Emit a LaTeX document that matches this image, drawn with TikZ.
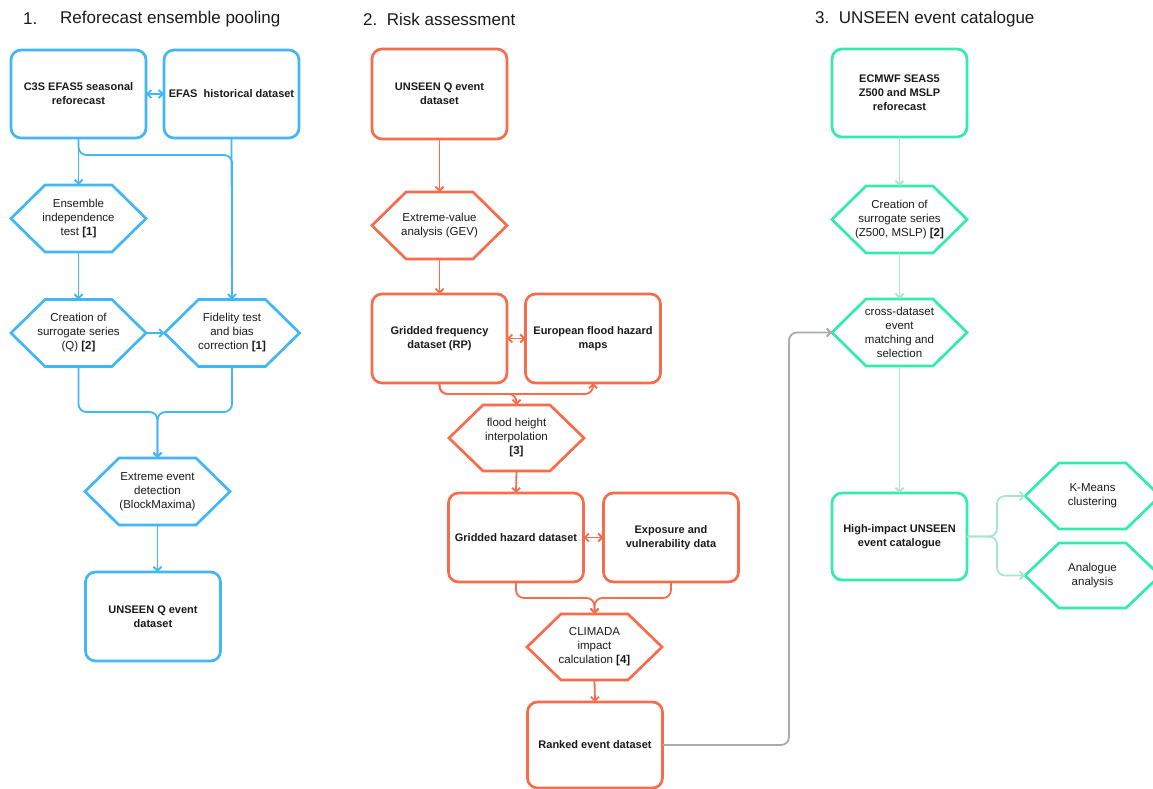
\documentclass[tikz,border=0pt]{standalone}
\usepackage{fontspec}
\setmainfont{Liberation Sans}
\usetikzlibrary{arrows.meta}
\definecolor{cblue}{HTML}{42B6F7}
\definecolor{corange}{HTML}{F76C4D}
\definecolor{cgreen}{HTML}{33ECAB}
\definecolor{cgreenl}{HTML}{A8E5CD}
\definecolor{cgrey}{HTML}{AAAAAA}
\definecolor{ctext}{HTML}{1A1A1A}
\newcommand\drawhex[2]{%
  \draw[line width=2.7pt,#2,line join=miter]
    (#1.west) -- ([xshift=34pt]#1.north west) -- ([xshift=-34pt]#1.north east)
    -- (#1.east) -- ([xshift=-34pt]#1.south east) -- ([xshift=34pt]#1.south west) -- cycle;}
\tikzset{
  boxnode/.style={draw=#1, line width=2.7pt, rounded corners=10pt, minimum width=135pt,
    minimum height=88pt, align=center, inner sep=0pt, outer sep=0pt,
    font=\fontsize{11}{14}\selectfont\bfseries, text=ctext},
  hexnode/.style={draw=none, minimum width=135pt, minimum height=67pt, align=center,
    inner sep=0pt, outer sep=0pt, font=\fontsize{11.5}{14}\selectfont, text=ctext},
  conn/.style={line width=1.8pt, draw=#1, rounded corners=8pt},
  arr/.style={conn=#1, -{Straight Barb[length=4pt,width=8pt]}},
  darr/.style={conn=#1, {Straight Barb[length=4pt,width=8pt]}-{Straight Barb[length=4pt,width=8pt]}},
  title/.style={anchor=west, font=\fontsize{17}{19}\selectfont, text=ctext, inner sep=0pt}
}
\begin{document}
\begin{tikzpicture}[x=1pt,y=-1pt]
\useasboundingbox (0,0) rectangle (1153,789);
% titles
\node[title] (t1a) at (23,19) {1.};
\node[title] (t1b) at (60,19) {Reforecast ensemble pooling};
\node[title] (t2) at (363,19) {2.\ \ Risk assessment};
\node[title] (t3) at (815,19) {3.\ \ UNSEEN event catalogue};

% ---------- column 1 (blue)
\node[boxnode=cblue] (A) at (78.5,94) {C3S EFAS5 seasonal\\reforecast};
\node[boxnode=cblue] (B) at (231.5,94) {EFAS\ \ historical dataset};
\node[hexnode] (H1) at (78.5,218.5) {Ensemble\\independence\\test \textbf{[1]}};
\node[hexnode] (H2) at (78.5,333) {Creation of\\surrogate series\\(Q) \textbf{[2]}};
\node[hexnode] (H3) at (232,333) {Fidelity test\\and bias\\correction \textbf{[1]}};
\node[hexnode, minimum width=145pt] (H4) at (157.5,491.5) {Extreme event\\detection\\(BlockMaxima)};
\node[boxnode=cblue, minimum height=89pt] (D) at (153,616.5) {UNSEEN Q event\\dataset};
\drawhex{H1}{cblue}
\drawhex{H2}{cblue}
\drawhex{H3}{cblue}
\drawhex{H4}{cblue}
\coordinate (j1) at (232,155);
\coordinate (m1) at (157.5,412);
\draw[darr=cblue] (A.east) -- (B.west);
\draw[arr=cblue] (A.south) -- (H1.north);
\draw[conn=cblue] (A.south) |- (j1) -- (H3.north);
\draw[arr=cblue] (B.south) -- (H3.north);
\draw[arr=cblue] (H1.south) -- (H2.north);
\draw[arr=cblue] (H2.east) -- (H3.west);
\draw[arr=cblue] (H2.south) |- (m1) -- (H4.north);
\draw[arr=cblue] (H3.south) |- (m1) -- (H4.north);
\draw[arr=cblue] (H4.south) -- (H4.south |- D.north);

% ---------- column 2 (orange)
\node[boxnode=corange, minimum height=90pt] (C) at (439.5,94) {UNSEEN Q event\\dataset};
\node[hexnode] (H5) at (439.5,225.5) {Extreme-value\\analysis (GEV)};
\node[boxnode=corange, minimum height=89pt] (E) at (439.5,338.5) {Gridded frequency\\dataset (RP)};
\node[boxnode=corange, minimum height=89pt] (F) at (593,338.5) {European flood hazard\\maps};
\node[hexnode, minimum height=66pt] (H6) at (516.5,438) {flood height\\interpolation\\\textbf{[3]}};
\node[boxnode=corange, minimum height=89pt] (G) at (516,537.5) {Gridded hazard dataset};
\node[boxnode=corange, minimum height=89pt] (I) at (671,537.5) {Exposure and\\vulnerability data};
\node[hexnode, minimum height=66pt] (H7) at (594.5,647) {CLIMADA\\impact\\calculation \textbf{[4]}};
\node[boxnode=corange, minimum height=86pt] (J) at (595,745) {Ranked event dataset};
\drawhex{H5}{corange}
\drawhex{H6}{corange}
\drawhex{H7}{corange}
\coordinate (m2) at (516.5,394);
\coordinate (m3) at (593,394);
\coordinate (m4) at (594.5,598);
\coordinate (g1) at (789,745);
\draw[arr=corange] (C.south) -- (H5.north);
\draw[arr=corange] (H5.south) -- (E.north);
\draw[darr=corange] (E.east) -- (F.west);
\draw[arr=corange] (E.south) |- (m3) -- (F.south);
\draw[arr=corange] (E.south) |- (m2) -- (H6.north);
\draw[arr=corange] (H6.south) -- (G.north);
\draw[darr=corange] (G.east) -- (I.west);
\draw[arr=corange] (G.south) |- (m4) -- (H7.north);
\draw[arr=corange] (I.south) |- (m4) -- (H7.north);
\draw[arr=corange] (H7.south) -- (J.north);

% ---------- column 3 (green)
\node[boxnode=cgreen] (K) at (899.5,93) {ECMWF SEAS5\\Z500 and MSLP\\reforecast};
\node[hexnode] (H8) at (899.5,219.5) {Creation of\\surrogate series\\(Z500, MSLP) \textbf{[2]}};
\node[hexnode] (H9) at (899.5,332.5) {cross-dataset\\event\\matching and\\selection};
\node[boxnode=cgreen, minimum height=87pt] (L) at (899.5,536.5) {High-impact UNSEEN\\event catalogue};
\node[hexnode, minimum height=66pt] (H10) at (1092.5,496) {K-Means\\clustering};
\node[hexnode, minimum height=65pt] (H11) at (1092.5,575.5) {Analogue\\analysis};
\drawhex{H8}{cgreen}
\drawhex{H9}{cgreen}
\drawhex{H10}{cgreen}
\drawhex{H11}{cgreen}
\coordinate (s1) at (997,536.5);
\draw[arr=cgreenl] (K.south) -- (H8.north);
\draw[arr=cgreenl] (H8.south) -- (H9.north);
\draw[arr=cgreenl] (H9.south) -- (L.north);
\draw[arr=cgreenl] (L.east) -- (s1) |- (H10.west);
\draw[arr=cgreenl] (L.east) -- (s1) |- (H11.west);

% grey link
\draw[arr=cgrey] (J.east) -- (g1) |- (H9.west);
\end{tikzpicture}
\end{document}
